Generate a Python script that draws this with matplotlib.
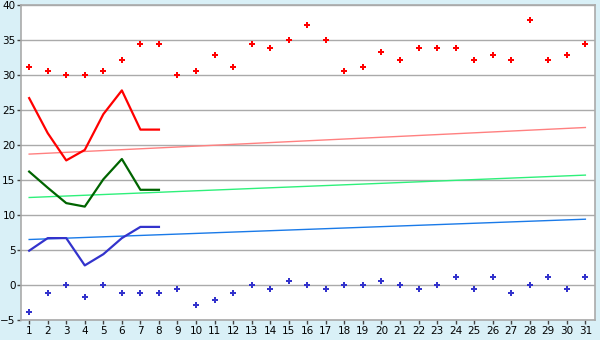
import matplotlib.pyplot as plt

# daily highs / lows (scatter) for the whole month
days = list(range(1, 32))
high_pts = [31.1, 30.6, 30.0, 30.0, 30.6, 32.2, 34.4, 34.4, 30.0, 30.6,
            32.8, 31.1, 34.4, 33.9, 35.0, 37.2, 35.0, 30.6, 31.1, 33.3,
            32.2, 33.9, 33.9, 33.9, 32.2, 32.8, 32.2, 37.8, 32.2, 32.8, 34.4]
low_pts = [-3.9, -1.1, 0.0, -1.7, 0.0, -1.1, -1.1, -1.1, -0.6, -2.8,
           -2.2, -1.1, 0.0, -0.6, 0.6, 0.0, -0.6, 0.0, 0.0, 0.6,
           0.0, -0.6, 0.0, 1.1, -0.6, 1.1, -1.1, 0.0, 1.1, -0.6, 1.1]

# observed lines, first 8 days
line_days = [1, 2, 3, 4, 5, 6, 7, 8]
max_line = [26.7, 21.7, 17.8, 19.3, 24.4, 27.8, 22.2, 22.2]
mean_line = [16.2, 13.9, 11.7, 11.2, 15.1, 18.0, 13.6, 13.6]
min_line = [4.9, 6.7, 6.7, 2.8, 4.4, 6.7, 8.3, 8.3]

# trend lines (start, end)
trend_days = [1, 31]
max_trend = [18.7, 22.5]
mean_trend = [12.5, 15.7]
min_trend = [6.5, 9.4]

y_ticks = [-5, 0, 5, 10, 15, 20, 25, 30, 35, 40]

fig = plt.figure(figsize=(6, 3.4), dpi=100)
fig.patch.set_facecolor("#d9f0f7")
ax = fig.add_axes([0.035, 0.0588, 0.9567, 0.9265])
ax.set_facecolor("white")

ax.plot(trend_days, max_trend, color="#ff8080", lw=1.0, zorder=2)
ax.plot(trend_days, mean_trend, color="#2ef07a", lw=1.0, zorder=2)
ax.plot(trend_days, min_trend, color="#1a7ae8", lw=1.0, zorder=2)

ax.plot(line_days, max_line, color="#ff0000", lw=1.6, zorder=3)
ax.plot(line_days, mean_line, color="#006400", lw=1.6, zorder=3)
ax.plot(line_days, min_line, color="#3333cc", lw=1.6, zorder=3)

ax.scatter(days, high_pts, marker="P", s=18, color="#ff0000", linewidths=0, zorder=4)
ax.scatter(days, low_pts, marker="P", s=18, color="#3333cc", linewidths=0, zorder=4)

ax.set_xlim(0.56, 31.52)
ax.set_ylim(-5, 40)
ax.set_xticks(days)
ax.set_yticks(y_ticks)
ax.grid(axis="y", color="#aaaaaa", lw=1.0, zorder=1)
ax.set_axisbelow(True)
for s in ax.spines.values():
    s.set_color("#aaaaaa")
    s.set_linewidth(1.2)
ax.tick_params(axis="both", color="#444444", labelsize=7.5, length=3,
               width=1, pad=1, labelcolor="black")

fig.savefig("out.png", dpi=100, facecolor=fig.get_facecolor())
